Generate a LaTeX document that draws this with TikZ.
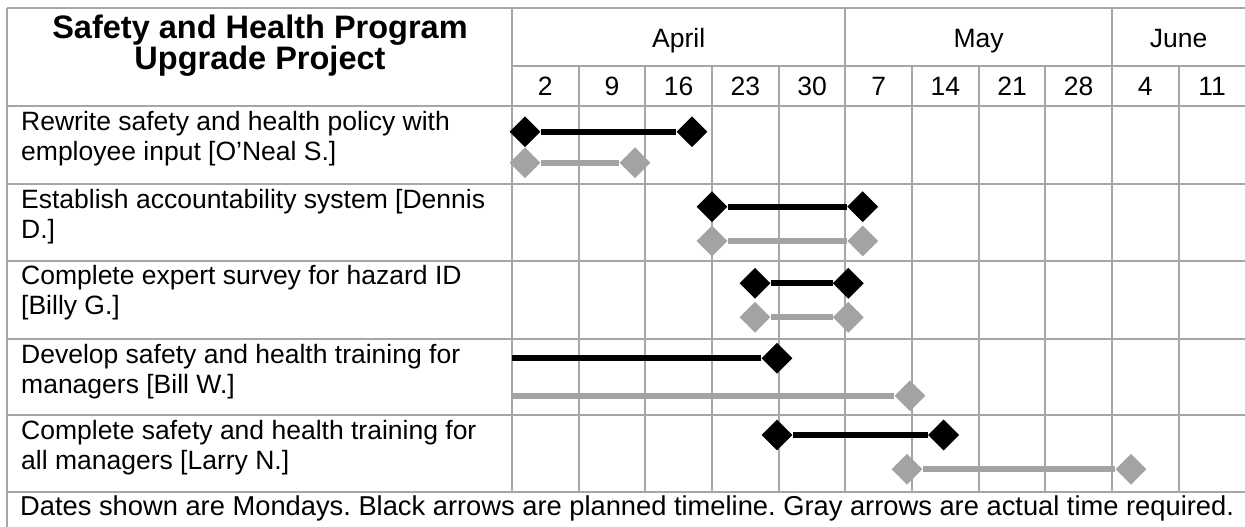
\documentclass[tikz,border=0pt]{standalone}
\usepackage{fontspec}
\setmainfont{Liberation Sans}
\usetikzlibrary{shapes.geometric}
\definecolor{gridgray}{RGB}{166,166,166}
\definecolor{bargray}{RGB}{163,163,163}
\tikzset{
  gridline/.style={draw=gridgray, line width=2pt},
  dmd/.style={diamond, draw=none, inner sep=0pt, minimum width=31pt, minimum height=31pt},
  plandmd/.style={dmd, fill=black},
  actualdmd/.style={dmd, fill=bargray},
  plan/.style={draw=black, line width=6pt},
  actual/.style={draw=bargray, line width=6pt},
  titletext/.style={anchor=base, inner sep=0pt, font=\fontsize{32.5}{36}\selectfont\bfseries},
  headtext/.style={anchor=base, inner sep=0pt, font=\fontsize{26.5}{30}\selectfont},
  tasktext/.style={anchor=base west, inner sep=0pt, font=\fontsize{26.5}{30}\selectfont},
  notetext/.style={anchor=base west, inner sep=0pt, font=\fontsize{27.3}{30}\selectfont\frenchspacing},
}
\begin{document}
\begin{tikzpicture}[x=1pt, y=-1pt]
\useasboundingbox (0,0) rectangle (1245,527);
\fill[white] (0,0) rectangle (1245,527);

% table rules
\def\colw{66.667}
\draw[gridline] (7,8) -- (1245,8);
\draw[gridline] (512,66) -- (1245,66);
\foreach \yy in {106,184,261,339,415,492}
  \draw[gridline] (7,\yy) -- (1245,\yy);
\draw[gridline] (7,8) -- (7,527);
\draw[gridline] (512,8) -- (512,492);
\foreach \k in {5,9}
  \draw[gridline] ({512+\k*\colw},8) -- ({512+\k*\colw},492);
\foreach \k in {1,2,3,4,6,7,8,10}
  \draw[gridline] ({512+\k*\colw},66) -- ({512+\k*\colw},492);

% title
\node[titletext] (title1) at (260,38.5) {Safety and Health Program};
\node[titletext] (title2) at (260,69.5) {Upgrade Project};

% months
\node[headtext] (apr) at ({512+2.5*\colw},48) {April};
\node[headtext] (may) at ({512+7*\colw},48) {May};
\node[headtext] (jun) at ({512+10*\colw},48) {June};

% week dates (Mondays)
\foreach \d [count=\i from 0] in {2,9,16,23,30,7,14,21,28,4,11}
  \node[headtext] (wk\i) at ({512+(\i+0.5)*\colw},95.5) {\d};

% task descriptions
\node[tasktext] (t1a) at (21,130.5) {Rewrite safety and health policy with};
\node[tasktext] (t1b) at (21,160.5) {employee input [O’Neal S.]};
\node[tasktext] (t2a) at (21,208) {Establish accountability system [Dennis};
\node[tasktext] (t2b) at (21,238) {D.]};
\node[tasktext] (t3a) at (21,284) {Complete expert survey for hazard ID};
\node[tasktext] (t3b) at (21,314) {[Billy G.]};
\node[tasktext] (t4a) at (21,363) {Develop safety and health training for};
\node[tasktext] (t4b) at (21,393) {managers [Bill W.]};
\node[tasktext] (t5a) at (21,439) {Complete safety and health training for};
\node[tasktext] (t5b) at (21,469) {all managers [Larry N.]};

% footer note
\node[notetext] (note) at (20,515) {Dates shown are Mondays. Black arrows are planned timeline. Gray arrows are actual time required.};

% task 1
\node[plandmd] (p1s) at (525,131.7) {};
\node[plandmd] (p1e) at (692,131.7) {};
\node[actualdmd] (a1s) at (525,162.7) {};
\node[actualdmd] (a1e) at (635,162.7) {};
\draw[plan] (p1s) -- (p1e);
\draw[actual] (a1s) -- (a1e);

% task 2
\node[plandmd] (p2s) at (712,206.7) {};
\node[plandmd] (p2e) at (862.7,206.7) {};
\node[actualdmd] (a2s) at (712,241) {};
\node[actualdmd] (a2e) at (862.7,241) {};
\draw[plan] (p2s) -- (p2e);
\draw[actual] (a2s) -- (a2e);

% task 3
\node[plandmd] (p3s) at (755,283.3) {};
\node[plandmd] (p3e) at (848.3,283.3) {};
\node[actualdmd] (a3s) at (755,317.3) {};
\node[actualdmd] (a3e) at (848.3,317.3) {};
\draw[plan] (p3s) -- (p3e);
\draw[actual] (a3s) -- (a3e);

% task 4 (started before the first week shown)
\coordinate (p4s) at (512,358.3);
\node[plandmd] (p4e) at (777,358.3) {};
\coordinate (a4s) at (512,395.7);
\node[actualdmd] (a4e) at (910,395.7) {};
\draw[plan] (p4s) -- (p4e);
\draw[actual] (a4s) -- (a4e);

% task 5
\node[plandmd] (p5s) at (777,435) {};
\node[plandmd] (p5e) at (943.6,435) {};
\node[actualdmd] (a5s) at (907,469.3) {};
\node[actualdmd] (a5e) at (1131,469.3) {};
\draw[plan] (p5s) -- (p5e);
\draw[actual] (a5s) -- (a5e);
\end{tikzpicture}
\end{document}
